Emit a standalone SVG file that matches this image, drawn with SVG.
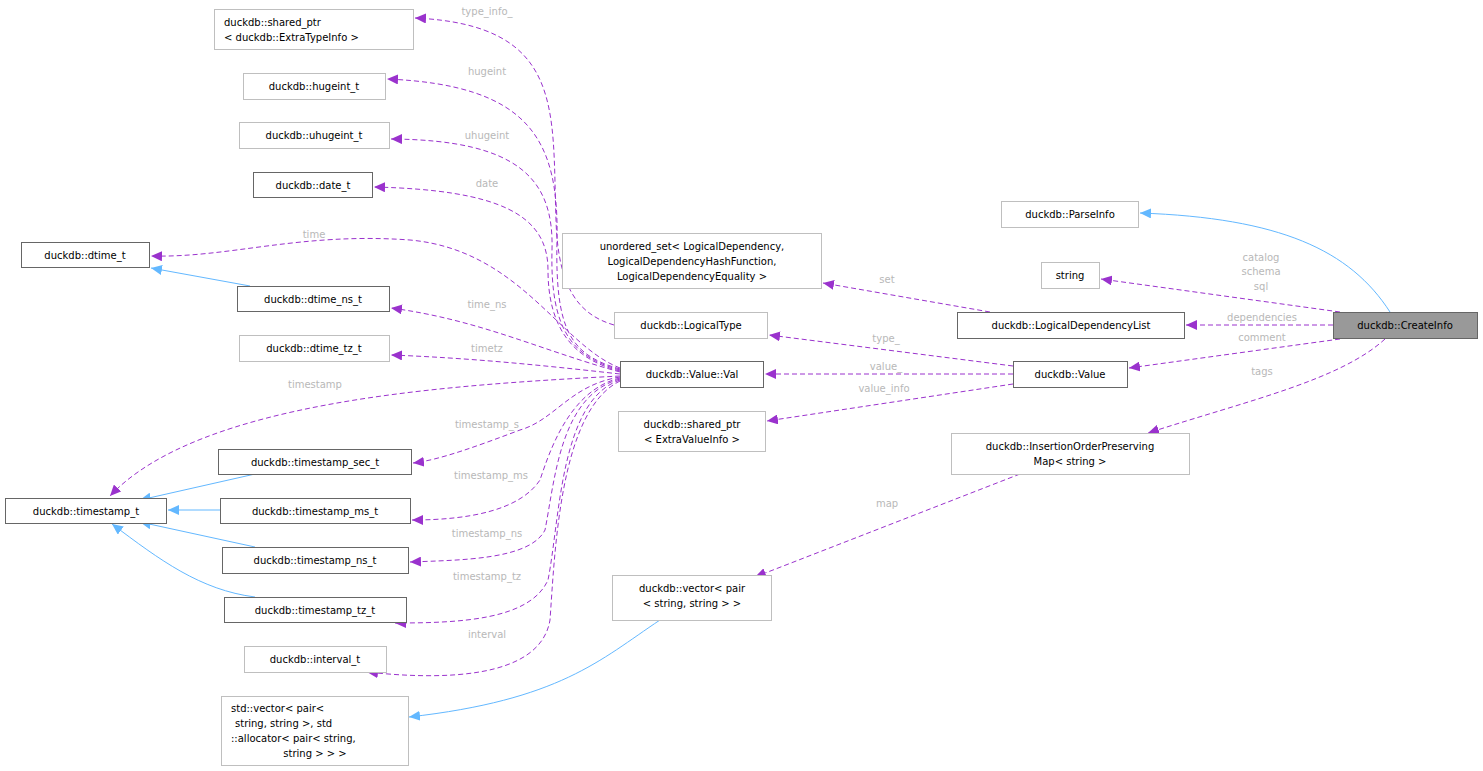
<svg xmlns="http://www.w3.org/2000/svg" width="1483" height="771" viewBox="0 0 1483 771">
<style>
text{font-family:"DejaVu Sans",sans-serif;font-size:10px;fill:#000}
.n rect{fill:#fff;stroke:#bfbfbf;stroke-width:1}
.d rect{stroke:#666}
.l{fill:#b8b8b8;text-anchor:middle}
.m{text-anchor:middle}
.p{fill:none;stroke:#9a32cd;stroke-dasharray:5,3;marker-end:url(#ap)}
.b{fill:none;stroke:#63b8ff;marker-end:url(#ab)}
</style>
<defs>
<marker id="ap" markerUnits="userSpaceOnUse" markerWidth="12" markerHeight="10" refX="11" refY="5" orient="auto"><path d="M0,0L11,5L0,10z" fill="#9a32cd"/></marker>
<marker id="ab" markerUnits="userSpaceOnUse" markerWidth="12" markerHeight="10" refX="11" refY="5" orient="auto"><path d="M0,0L11,5L0,10z" fill="#63b8ff"/></marker>
</defs>
<rect width="1483" height="771" fill="#fff"/>
<g id="edges">
<path class="p" d="M614,325 C580,315 558,290 556,220 C552,110 565,25 415,18"/>
<path class="p" d="M620,369 C570,355 555,330 557,240 C559,140 530,85 387,79"/>
<path class="p" d="M620,370 C572,357 550,330 552,250 C554,180 520,140 391,139"/>
<path class="p" d="M620,371 C575,360 548,330 548,270 C548,215 500,190 374,187"/>
<path class="p" d="M620,368 C560,345 520,250 410,240 C300,232 230,258 151,256"/>
<path class="p" d="M620,372 C540,350 480,320 391,308"/>
<path class="p" d="M620,374 C540,365 470,358 391,355"/>
<path class="p" d="M620,376 C450,385 200,400 110,496"/>
<path class="p" d="M620,377 C570,385 555,420 520,430 C480,445 440,460 413,463"/>
<path class="p" d="M620,378 C570,390 550,450 540,480 C520,510 470,520 412,520"/>
<path class="p" d="M620,379 C560,395 555,480 545,530 C530,560 460,560 410,562"/>
<path class="p" d="M620,380 C560,400 560,520 548,580 C530,620 460,623 395,623"/>
<path class="p" d="M620,381 C560,410 555,550 550,620 C540,680 440,680 367,672"/>
<path class="p" d="M1013,374 L765,374"/>
<path class="p" d="M1013,366 L769,335"/>
<path class="p" d="M1013,384 L767,421"/>
<path class="p" d="M990,312 L823,283"/>
<path class="p" d="M1333,325 L1186,325"/>
<path class="p" d="M1340,312 L1101,279"/>
<path class="p" d="M1340,339 L1129,368"/>
<path class="p" d="M1385,339 C1340,380 1250,400 1148,433"/>
<path class="p" d="M1020,474 L755,577"/>
<path class="b" d="M1390,312 C1350,250 1280,218 1140,213"/>
<path class="b" d="M660,620 C600,660 560,700 409,717"/>
<path class="b" d="M250,286 L151,268"/>
<path class="b" d="M255,474 L140,500"/>
<path class="b" d="M220,510 L168,510"/>
<path class="b" d="M255,547 L140,522"/>
<path class="b" d="M255,597 C200,590 160,560 112,524"/>
<text class="l" x="487" y="15">type_info_</text>
<text class="l" x="487" y="75">hugeint</text>
<text class="l" x="487" y="139">uhugeint</text>
<text class="l" x="487" y="187">date</text>
<text class="l" x="314" y="238">time</text>
<text class="l" x="487" y="308">time_ns</text>
<text class="l" x="487" y="352">timetz</text>
<text class="l" x="315" y="388">timestamp</text>
<text class="l" x="487" y="428">timestamp_s</text>
<text class="l" x="491" y="479">timestamp_ms</text>
<text class="l" x="487" y="537">timestamp_ns</text>
<text class="l" x="487" y="580">timestamp_tz</text>
<text class="l" x="487" y="638">interval</text>
<text class="l" x="887" y="283">set</text>
<text class="l" x="886" y="342">type_</text>
<text class="l" x="886" y="370">value_</text>
<text class="l" x="884" y="392">value_info</text>
<text class="l" x="1261" y="261">catalog</text>
<text class="l" x="1261" y="275">schema</text>
<text class="l" x="1261" y="290">sql</text>
<text class="l" x="1262" y="321">dependencies</text>
<text class="l" x="1262" y="341">comment</text>
<text class="l" x="1262" y="375">tags</text>
<text class="l" x="887" y="507">map</text>
</g>
<g id="n1" class="n"><rect x="214.5" y="9.5" width="199" height="40"/><text x="224" y="26">duckdb::shared_ptr</text><text x="224" y="41">&lt; duckdb::ExtraTypeInfo &gt;</text></g>
<g id="n2" class="n"><rect x="243.5" y="73.5" width="142" height="26"/><text class="m" x="314" y="90">duckdb::hugeint_t</text></g>
<g id="n3" class="n"><rect x="239.5" y="122.5" width="150" height="26"/><text class="m" x="314" y="139">duckdb::uhugeint_t</text></g>
<g id="n4" class="n d"><rect x="253.5" y="172.5" width="119" height="25"/><text class="m" x="313" y="189">duckdb::date_t</text></g>
<g id="n5" class="n d"><rect x="21.5" y="242.5" width="128" height="25"/><text class="m" x="85" y="259">duckdb::dtime_t</text></g>
<g id="n6" class="n d"><rect x="237.5" y="286.5" width="152" height="25"/><text class="m" x="313" y="303">duckdb::dtime_ns_t</text></g>
<g id="n7" class="n"><rect x="239.5" y="335.5" width="150" height="26"/><text class="m" x="314" y="352">duckdb::dtime_tz_t</text></g>
<g id="n8" class="n d"><rect x="218.5" y="449.5" width="193" height="25"/><text class="m" x="315" y="466">duckdb::timestamp_sec_t</text></g>
<g id="n9" class="n d"><rect x="5.5" y="498.5" width="161" height="25"/><text class="m" x="86" y="515">duckdb::timestamp_t</text></g>
<g id="n10" class="n d"><rect x="220.5" y="498.5" width="190" height="25"/><text class="m" x="315" y="515">duckdb::timestamp_ms_t</text></g>
<g id="n11" class="n d"><rect x="222.5" y="547.5" width="186" height="26"/><text class="m" x="315" y="564">duckdb::timestamp_ns_t</text></g>
<g id="n12" class="n d"><rect x="224.5" y="597.5" width="182" height="25"/><text class="m" x="315" y="614">duckdb::timestamp_tz_t</text></g>
<g id="n13" class="n"><rect x="244.5" y="646.5" width="142" height="26"/><text class="m" x="315" y="663">duckdb::interval_t</text></g>
<g id="n14" class="n"><rect x="221.5" y="696.5" width="187" height="69"/><text x="231" y="712">std::vector&lt; pair&lt;</text><text x="235" y="727">string, string &gt;, std</text><text x="231" y="742">::allocator&lt; pair&lt; string,</text><text class="m" x="315" y="757">string &gt; &gt; &gt;</text></g>
<g id="n15" class="n"><rect x="562.5" y="233.5" width="259" height="55"/><text class="m" x="692" y="250">unordered_set&lt; LogicalDependency,</text><text class="m" x="692" y="265">LogicalDependencyHashFunction,</text><text class="m" x="692" y="280">LogicalDependencyEquality &gt;</text></g>
<g id="n16" class="n"><rect x="614.5" y="312.5" width="153" height="26"/><text class="m" x="691" y="329">duckdb::LogicalType</text></g>
<g id="n17" class="n d"><rect x="620.5" y="361.5" width="143" height="26"/><text class="m" x="692" y="378">duckdb::Value::Val</text></g>
<g id="n18" class="n"><rect x="618.5" y="411.5" width="147" height="40"/><text class="m" x="692" y="428">duckdb::shared_ptr</text><text class="m" x="692" y="443">&lt; ExtraValueInfo &gt;</text></g>
<g id="n19" class="n"><rect x="612.5" y="575.5" width="159" height="45"/><text class="m" x="692" y="592">duckdb::vector&lt; pair</text><text class="m" x="692" y="607">&lt; string, string &gt; &gt;</text></g>
<g id="n20" class="n"><rect x="1001.5" y="201.5" width="137" height="26"/><text class="m" x="1070" y="218">duckdb::ParseInfo</text></g>
<g id="n21" class="n"><rect x="1041.5" y="262.5" width="58" height="26"/><text class="m" x="1070" y="279">string</text></g>
<g id="n22" class="n d"><rect x="957.5" y="312.5" width="227" height="26"/><text class="m" x="1071" y="329">duckdb::LogicalDependencyList</text></g>
<g id="n23" class="n d"><rect x="1333.5" y="312.5" width="144" height="26" style="fill:#999"/><text class="m" x="1405" y="329">duckdb::CreateInfo</text></g>
<g id="n24" class="n d"><rect x="1013.5" y="361.5" width="114" height="26"/><text class="m" x="1070" y="378">duckdb::Value</text></g>
<g id="n25" class="n"><rect x="951.5" y="433.5" width="238" height="41"/><text class="m" x="1070" y="450">duckdb::InsertionOrderPreserving</text><text class="m" x="1070" y="465">Map&lt; string &gt;</text></g>
</svg>
